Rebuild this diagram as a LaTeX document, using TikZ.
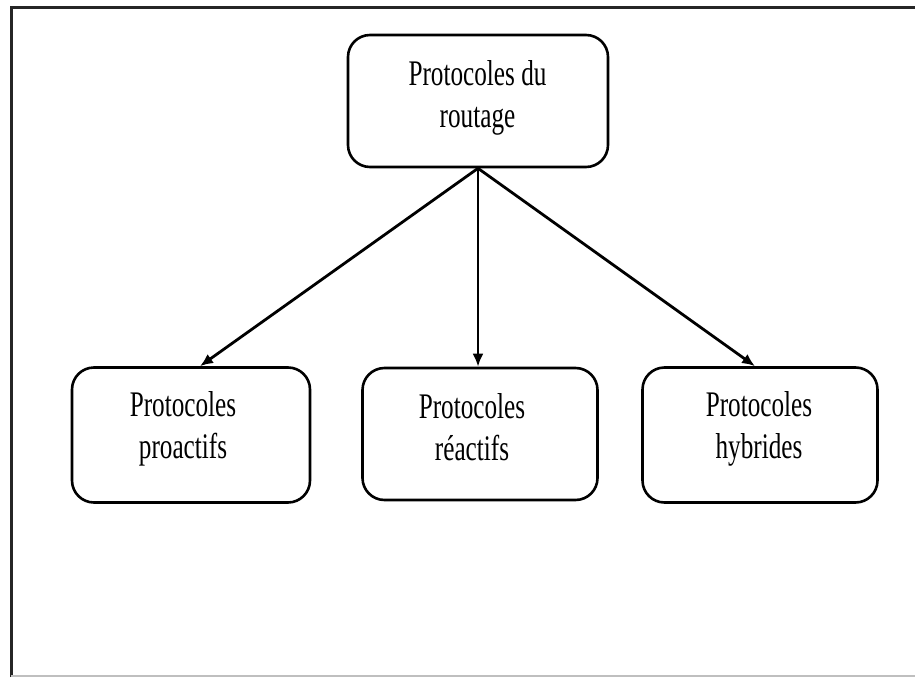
\documentclass[tikz,border=0pt]{standalone}
\usepackage{fontspec}
\setmainfont{Liberation Serif}
\newfontfamily\boxfont[FakeStretch=0.70]{Liberation Serif}
\usetikzlibrary{arrows.meta}
\begin{document}
\begin{tikzpicture}[x=1pt,y=-1pt,
  box/.style={draw=black, line width=2.6pt, rounded corners=22pt, fill=white, inner sep=0pt},
  lbl/.style={align=center, inner sep=0pt, anchor=base, font=\boxfont\fontsize{36}{42}\selectfont},
  arr/.style={line width=2.8pt, -{Latex[length=13pt,width=11pt]}}]
  \useasboundingbox (0,0) rectangle (915,677);
  % outer frame
  \draw[line width=3pt, black!85] (11,677) -- (11,8) -- (915,8);
  \draw[line width=1.5pt, black!25] (11,676) -- (915,676);
  % boxes
  \node[box, minimum width=260pt, minimum height=132pt] (root) at (478,101) {};
  \node[box, minimum width=238pt, minimum height=135pt] (pro) at (191,435) {};
  \node[box, minimum width=235pt, minimum height=132pt] (rea) at (480,434) {};
  \node[box, minimum width=235pt, minimum height=135pt] (hyb) at (760,435) {};
  % box texts, anchored on their last baseline
  \node[lbl] (rootlbl) at (477.5,127) {Protocoles du\\routage};
  \node[lbl] (prolbl) at (183,458) {Protocoles\\proactifs};
  \node[lbl] (realbl) at (472,460) {Protocoles\\réactifs};
  \node[lbl] (hyblbl) at (759,458) {Protocoles\\hybrides};
  % connectors
  \draw[arr] (root.south) -- ([xshift=9pt]pro.north);
  \draw[arr] (root.south) -- (rea.north -| root.south);
  \draw[arr] (root.south) -- ([xshift=-5pt]hyb.north);
\end{tikzpicture}
\end{document}
